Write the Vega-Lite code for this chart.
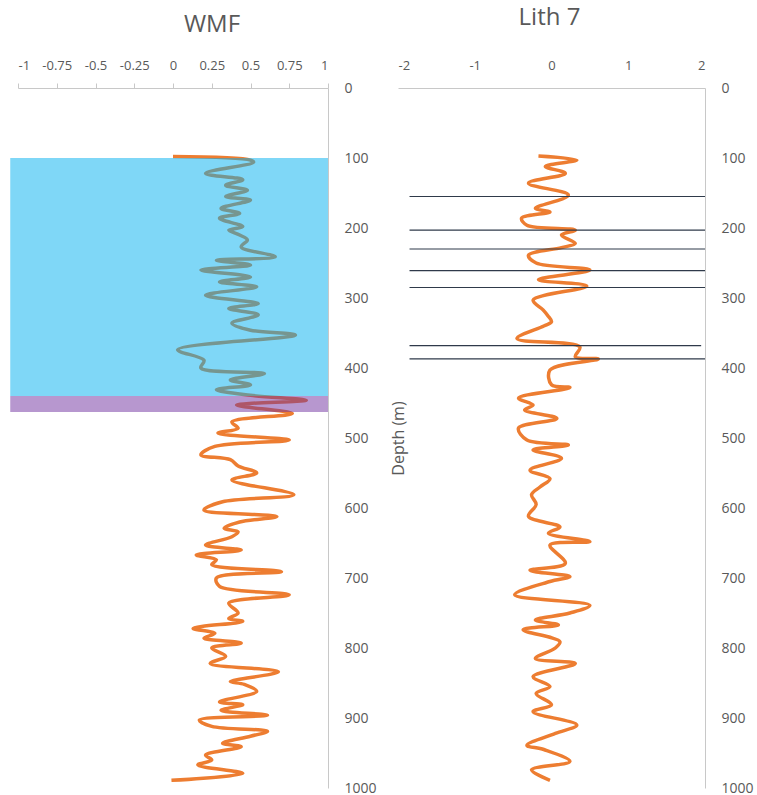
{
  "$schema": "https://vega.github.io/schema/vega-lite/v6.json",
  "autosize": {"type": "pad"},
  "padding": {"left": 10, "top": 6, "right": 0, "bottom": 0},
  "background": "white",
  "bounds": "flush",
  "spacing": 70,
  "config": {
    "view": {"stroke": null},
    "font": "Open Sans",
    "axis": {
      "grid": false,
      "domainColor": "#c8c8c8",
      "tickColor": "#c8c8c8",
      "labelColor": "#595959",
      "labelFont": "Open Sans",
      "labelOverlap": false,
      "labelBound": false,
      "titleColor": "#595959",
      "titleFont": "Open Sans",
      "titleFontWeight": "normal"
    },
    "title": {"font": "Open Sans", "fontSize": 24, "fontWeight": "normal", "color": "#595959", "baseline": "alphabetic"}
  },
  "datasets": {
    "wmf": [
      {"depth": 98, "value": 0.0}, {"depth": 103, "value": 0.5}, {"depth": 106, "value": 0.52}, {"depth": 122, "value": 0.21},
      {"depth": 131, "value": 0.45}, {"depth": 139, "value": 0.34}, {"depth": 146, "value": 0.48}, {"depth": 155, "value": 0.34},
      {"depth": 160, "value": 0.5}, {"depth": 172, "value": 0.31}, {"depth": 179, "value": 0.43}, {"depth": 186, "value": 0.3},
      {"depth": 198, "value": 0.45}, {"depth": 203, "value": 0.36}, {"depth": 210, "value": 0.43}, {"depth": 217, "value": 0.48},
      {"depth": 227, "value": 0.44}, {"depth": 241, "value": 0.66}, {"depth": 246, "value": 0.28}, {"depth": 253, "value": 0.5},
      {"depth": 260, "value": 0.18}, {"depth": 270, "value": 0.5}, {"depth": 277, "value": 0.3}, {"depth": 284, "value": 0.54},
      {"depth": 296, "value": 0.21}, {"depth": 308, "value": 0.55}, {"depth": 315, "value": 0.36}, {"depth": 324, "value": 0.55},
      {"depth": 336, "value": 0.38}, {"depth": 346, "value": 0.5}, {"depth": 353, "value": 0.79}, {"depth": 374, "value": 0.03},
      {"depth": 389, "value": 0.2}, {"depth": 400, "value": 0.18}, {"depth": 408, "value": 0.59}, {"depth": 417, "value": 0.37},
      {"depth": 424, "value": 0.5}, {"depth": 431, "value": 0.28}, {"depth": 439, "value": 0.5}, {"depth": 446, "value": 0.86},
      {"depth": 453, "value": 0.41}, {"depth": 465, "value": 0.77}, {"depth": 477, "value": 0.38}, {"depth": 486, "value": 0.42},
      {"depth": 493, "value": 0.29}, {"depth": 503, "value": 0.75}, {"depth": 512, "value": 0.27}, {"depth": 524, "value": 0.18},
      {"depth": 531, "value": 0.37}, {"depth": 540, "value": 0.42}, {"depth": 550, "value": 0.54}, {"depth": 560, "value": 0.38},
      {"depth": 581, "value": 0.78}, {"depth": 591, "value": 0.32}, {"depth": 603, "value": 0.2}, {"depth": 612, "value": 0.67},
      {"depth": 620, "value": 0.43}, {"depth": 629, "value": 0.33}, {"depth": 634, "value": 0.42}, {"depth": 641, "value": 0.38},
      {"depth": 653, "value": 0.21}, {"depth": 660, "value": 0.44}, {"depth": 667, "value": 0.15}, {"depth": 674, "value": 0.28},
      {"depth": 681, "value": 0.25}, {"depth": 691, "value": 0.7}, {"depth": 700, "value": 0.28}, {"depth": 712, "value": 0.3},
      {"depth": 724, "value": 0.75}, {"depth": 736, "value": 0.36}, {"depth": 750, "value": 0.42}, {"depth": 758, "value": 0.36},
      {"depth": 762, "value": 0.45}, {"depth": 772, "value": 0.13}, {"depth": 779, "value": 0.27}, {"depth": 786, "value": 0.2},
      {"depth": 793, "value": 0.44}, {"depth": 800, "value": 0.25}, {"depth": 812, "value": 0.34}, {"depth": 822, "value": 0.24},
      {"depth": 834, "value": 0.68}, {"depth": 848, "value": 0.37}, {"depth": 852, "value": 0.46}, {"depth": 862, "value": 0.54},
      {"depth": 877, "value": 0.3}, {"depth": 881, "value": 0.45}, {"depth": 889, "value": 0.31}, {"depth": 896, "value": 0.61},
      {"depth": 903, "value": 0.17}, {"depth": 912, "value": 0.25}, {"depth": 919, "value": 0.61}, {"depth": 926, "value": 0.5},
      {"depth": 936, "value": 0.32}, {"depth": 941, "value": 0.44}, {"depth": 953, "value": 0.21}, {"depth": 960, "value": 0.25},
      {"depth": 967, "value": 0.16}, {"depth": 979, "value": 0.45}, {"depth": 989, "value": -0.01}
    ],
    "lith": [
      {"depth": 97, "value": -0.17}, {"depth": 103, "value": 0.33}, {"depth": 112, "value": -0.08}, {"depth": 122, "value": 0.18},
      {"depth": 136, "value": -0.3}, {"depth": 153, "value": 0.22}, {"depth": 172, "value": -0.21}, {"depth": 177, "value": -0.02},
      {"depth": 186, "value": -0.39}, {"depth": 196, "value": -0.32}, {"depth": 203, "value": 0.31}, {"depth": 210, "value": 0.13},
      {"depth": 222, "value": 0.31}, {"depth": 228, "value": 0.13}, {"depth": 239, "value": -0.3}, {"depth": 250, "value": -0.2},
      {"depth": 260, "value": 0.5}, {"depth": 274, "value": -0.17}, {"depth": 283, "value": 0.46}, {"depth": 303, "value": -0.24},
      {"depth": 317, "value": -0.11}, {"depth": 325, "value": -0.05}, {"depth": 334, "value": 0.0}, {"depth": 340, "value": -0.1},
      {"depth": 358, "value": -0.45}, {"depth": 370, "value": 0.37}, {"depth": 384, "value": 0.31}, {"depth": 387, "value": 0.61},
      {"depth": 403, "value": -0.02}, {"depth": 424, "value": 0.0}, {"depth": 428, "value": 0.24}, {"depth": 443, "value": -0.43},
      {"depth": 453, "value": -0.24}, {"depth": 460, "value": -0.35}, {"depth": 472, "value": 0.07}, {"depth": 486, "value": -0.43},
      {"depth": 503, "value": -0.32}, {"depth": 510, "value": 0.22}, {"depth": 517, "value": -0.24}, {"depth": 529, "value": 0.13},
      {"depth": 546, "value": -0.28}, {"depth": 558, "value": -0.02}, {"depth": 570, "value": -0.15}, {"depth": 581, "value": -0.26},
      {"depth": 595, "value": -0.2}, {"depth": 612, "value": -0.3}, {"depth": 627, "value": 0.11}, {"depth": 636, "value": -0.04},
      {"depth": 648, "value": 0.5}, {"depth": 653, "value": -0.02}, {"depth": 679, "value": 0.18}, {"depth": 689, "value": -0.28},
      {"depth": 698, "value": 0.24}, {"depth": 705, "value": -0.02}, {"depth": 724, "value": -0.48}, {"depth": 739, "value": 0.5},
      {"depth": 750, "value": 0.24}, {"depth": 760, "value": -0.21}, {"depth": 767, "value": 0.09}, {"depth": 774, "value": -0.37},
      {"depth": 791, "value": 0.11}, {"depth": 800, "value": 0.05}, {"depth": 815, "value": -0.21}, {"depth": 822, "value": 0.31},
      {"depth": 841, "value": -0.24}, {"depth": 855, "value": -0.02}, {"depth": 865, "value": -0.2}, {"depth": 881, "value": 0.0},
      {"depth": 891, "value": -0.24}, {"depth": 910, "value": 0.33}, {"depth": 922, "value": 0.05}, {"depth": 939, "value": -0.32},
      {"depth": 945, "value": -0.1}, {"depth": 962, "value": 0.24}, {"depth": 974, "value": -0.26}, {"depth": 989, "value": -0.02}
    ],
    "zones": [
      {"zone": "upper", "top": 100, "bottom": 440, "from": -1.05, "to": 1},
      {"zone": "lower", "top": 440, "bottom": 463, "from": -1.05, "to": 1}
    ],
    "markers": [
      {"depth": 155, "from": -1.85, "to": 2},
      {"depth": 203, "from": -1.85, "to": 2},
      {"depth": 230, "from": -1.85, "to": 2},
      {"depth": 261, "from": -1.85, "to": 2},
      {"depth": 285, "from": -1.85, "to": 2},
      {"depth": 368, "from": -1.85, "to": 1.95},
      {"depth": 387, "from": -1.85, "to": 2}
    ]
  },
  "hconcat": [
    {
      "width": 310,
      "height": 700,
      "title": {"text": "WMF", "dx": 39, "offset": 22},
      "layer": [
        {
          "data": {"name": "wmf"},
          "mark": {"type": "line", "color": "#ED7D31", "strokeWidth": 3.5, "interpolate": "catmull-rom"},
          "encoding": {
            "x": {
              "field": "value", "type": "quantitative",
              "scale": {"domain": [-1, 1], "nice": false},
              "axis": {
                "orient": "top", "title": null,
                "values": [-1, -0.75, -0.5, -0.25, 0, 0.25, 0.5, 0.75, 1],
                "tickCount": 20,
                "labelExpr": "replace(format(datum.value, '~g'), '\u2212', '-')",
                "labelOverlap": false, "labelBound": false,
                "ticks": true, "tickSize": 5, "labelPadding": 11, "labelFontSize": 13
              }
            },
            "y": {
              "field": "depth", "type": "quantitative",
              "scale": {"domain": [0, 1000], "reverse": true, "nice": false},
              "axis": {
                "orient": "right", "format": "d",
                "values": [0, 100, 200, 300, 400, 500, 600, 700, 800, 900, 1000],
                "tickCount": 20,
                "ticks": false, "labelPadding": 16, "labelFontSize": 14,
                "title": "Depth (m)", "titleAngle": 270, "titleFontSize": 16, "titlePadding": 30
              }
            },
            "order": {"field": "depth"}
          }
        },
        {
          "data": {"name": "zones"},
          "mark": {"type": "rect", "opacity": 0.5},
          "encoding": {
            "x": {"field": "from", "type": "quantitative"},
            "x2": {"field": "to"},
            "y": {"field": "top", "type": "quantitative"},
            "y2": {"field": "bottom"},
            "color": {
              "field": "zone", "type": "nominal",
              "scale": {"domain": ["upper", "lower"], "range": ["#00B0F0", "#7030A0"]},
              "legend": null
            }
          }
        }
      ]
    },
    {
      "width": 307,
      "height": 700,
      "title": {"text": "Lith 7", "dx": -2, "offset": 29},
      "layer": [
        {
          "data": {"name": "lith"},
          "mark": {"type": "line", "color": "#ED7D31", "strokeWidth": 3.5, "interpolate": "catmull-rom"},
          "encoding": {
            "x": {
              "field": "value", "type": "quantitative",
              "scale": {"domain": [-2, 2], "nice": false},
              "axis": {
                "orient": "top", "title": null,
                "values": [-2, -1, 0, 1, 2],
                "tickCount": 20,
                "labelExpr": "replace(format(datum.value, '~g'), '\u2212', '-')",
                "labelOverlap": false,
                "ticks": false, "labelPadding": 16, "labelFontSize": 13
              }
            },
            "y": {
              "field": "depth", "type": "quantitative",
              "scale": {"domain": [0, 1000], "reverse": true, "nice": false},
              "axis": {
                "orient": "right", "title": null, "format": "d",
                "values": [0, 100, 200, 300, 400, 500, 600, 700, 800, 900, 1000],
                "tickCount": 20,
                "ticks": false, "labelPadding": 16, "labelFontSize": 14
              }
            },
            "order": {"field": "depth"}
          }
        },
        {
          "data": {"name": "markers"},
          "mark": {"type": "rule", "color": "#2F3A4A", "strokeWidth": 1.2},
          "encoding": {
            "x": {"field": "from", "type": "quantitative"},
            "x2": {"field": "to"},
            "y": {"field": "depth", "type": "quantitative"}
          }
        }
      ]
    }
  ]
}
